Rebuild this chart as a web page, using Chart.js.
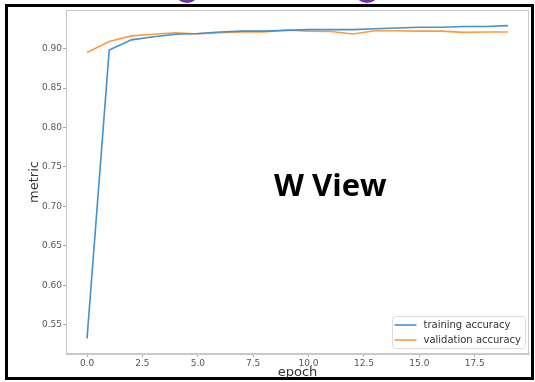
<!DOCTYPE html>
<html>
<head>
<meta charset="utf-8">
<script src="https://cdn.jsdelivr.net/npm/chart.js@4/dist/chart.umd.min.js"></script>
<style>
  html, body { margin: 0; padding: 0; background: #fff; }
  #wrap { position: relative; width: 535px; height: 382px; overflow: hidden; }
  #chart { position: absolute; left: 0; top: 0; }
  .frame { position: absolute; left: 5px; top: 4px; width: 529px; height: 376px;
           box-sizing: border-box; border: 3px solid #000; pointer-events: none; }
  .dot { position: absolute; width: 26px; height: 26px; border-radius: 50%; background: #7030a0; top: -23px; }
</style>
</head>
<body>
<div id="wrap">
  <canvas id="chart" width="535" height="382"></canvas>
  <div class="dot" style="left:174px"></div>
  <div class="dot" style="left:354px"></div>
  <div class="frame"></div>
</div>
<script>
// Training history: accuracy per epoch
const epochs = [0, 1, 2, 3, 4, 5, 6, 7, 8, 9, 10, 11, 12, 13, 14, 15, 16, 17, 18, 19];
const trainAcc = [0.533, 0.898, 0.911, 0.915, 0.918, 0.919, 0.921, 0.922, 0.922, 0.923,
                  0.924, 0.924, 0.924, 0.925, 0.926, 0.927, 0.927, 0.928, 0.928, 0.929];
const valAcc = [0.895, 0.909, 0.916, 0.918, 0.920, 0.9185, 0.920, 0.921, 0.921, 0.9235,
                0.922, 0.9215, 0.9185, 0.9225, 0.9225, 0.922, 0.922, 0.9205, 0.921, 0.921];
const seriesLabels = ['training accuracy', 'validation accuracy'];
const xTickValues = [0, 2.5, 5, 7.5, 10, 12.5, 15, 17.5];
const yTickValues = [0.55, 0.60, 0.65, 0.70, 0.75, 0.80, 0.85, 0.90];
const xTitle = 'epoch';
const yTitle = 'metric';
const overlayText = 'W View';

// 5% margins around the data, as in the usual plotting default
const allY = trainAcc.concat(valAcc);
const yLo = Math.min(...allY), yHi = Math.max(...allY);
const yPad = (yHi - yLo) * 0.05;
const xLo = Math.min(...epochs), xHi = Math.max(...epochs);
const xPad = (xHi - xLo) * 0.05;

const spineColor = '#c8c8c8';
const tickFont = { family: 'DejaVu Sans', size: 9 };

const framePlugin = {
  id: 'framePlugin',
  beforeDatasetsDraw(chart) {
    const { ctx, chartArea: a } = chart;
    ctx.save();
    ctx.strokeStyle = spineColor;
    ctx.lineWidth = 1;
    ctx.strokeRect(Math.round(a.left) + 0.5, Math.round(a.top) + 0.5,
                   Math.round(a.right - a.left) - 1, Math.round(a.bottom - a.top) - 1);
    ctx.restore();
  },
  afterDatasetsDraw(chart) {
    const { ctx, chartArea: a } = chart;
    const ds = chart.data.datasets;
    ctx.save();
    // legend box in the lower right corner
    ctx.font = '10px "DejaVu Sans"';
    const textW = Math.max(...ds.map(d => ctx.measureText(d.label).width));
    const rowH = 15, lineLen = 22, gap = 7, padL = 2, padR = 4, padV = 1;
    const w = padL + lineLen + gap + textW + padR;
    const h = ds.length * rowH + padV * 2;
    const x0 = a.right - 4 - w;
    const y0 = a.bottom - 6 - h;
    ctx.beginPath();
    ctx.roundRect(Math.round(x0) + 0.5, Math.round(y0) + 0.5, Math.round(w), Math.round(h), 3);
    ctx.fillStyle = 'rgba(255,255,255,0.85)';
    ctx.fill();
    ctx.strokeStyle = '#dcdcdc';
    ctx.lineWidth = 1;
    ctx.stroke();
    ds.forEach((d, i) => {
      const cy = y0 + padV + rowH * i + rowH / 2 + 0.5;
      ctx.beginPath();
      ctx.moveTo(x0 + padL, cy);
      ctx.lineTo(x0 + padL + lineLen, cy);
      ctx.strokeStyle = d.borderColor;
      ctx.lineWidth = 1.6;
      ctx.stroke();
      ctx.fillStyle = '#333';
      ctx.textBaseline = 'middle';
      ctx.fillText(d.label, x0 + padL + lineLen + gap, cy);
    });
    // caption text
    ctx.font = 'bold 31px "Open Sans"';
    ctx.fillStyle = '#000';
    ctx.textBaseline = 'alphabetic';
    ctx.fillText(overlayText, 274, 196);
    ctx.restore();
  }
};

new Chart(document.getElementById('chart'), {
  type: 'line',
  data: {
    datasets: [
      { label: seriesLabels[0], data: epochs.map((e, i) => ({ x: e, y: trainAcc[i] })),
        borderColor: '#4491cf', borderWidth: 1.6, pointRadius: 0, tension: 0, fill: false },
      { label: seriesLabels[1], data: epochs.map((e, i) => ({ x: e, y: valAcc[i] })),
        borderColor: '#ff9a3a', borderWidth: 1.6, pointRadius: 0, tension: 0, fill: false }
    ]
  },
  options: {
    responsive: false,
    animation: false,
    events: [],
    layout: { padding: { left: 0, top: 10, right: 6, bottom: 0 } },
    plugins: { legend: { display: false }, tooltip: { enabled: false } },
    scales: {
      x: {
        type: 'linear',
        min: xLo - xPad, max: xHi + xPad,
        afterBuildTicks: s => { s.ticks = xTickValues.map(v => ({ value: v })); },
        afterFit: s => { s.height = 28; },
        ticks: { autoSkip: false, maxRotation: 0, font: tickFont, color: '#555', padding: 1,
                 callback: v => Number(v).toFixed(1) },
        grid: { drawOnChartArea: false, drawTicks: true, tickLength: 3, tickColor: '#aaa' },
        border: { color: spineColor },
        title: { display: true, text: xTitle, color: '#333',
                 font: { family: 'DejaVu Sans', size: 13 }, padding: { top: 0, bottom: 2 } }
      },
      y: {
        type: 'linear',
        min: yLo - yPad, max: yHi + yPad,
        afterBuildTicks: s => { s.ticks = yTickValues.map(v => ({ value: v })); },
        afterFit: s => { s.width = 66; },
        ticks: { autoSkip: false, font: tickFont, color: '#555', padding: 1,
                 callback: v => Number(v).toFixed(2) },
        grid: { drawOnChartArea: false, drawTicks: true, tickLength: 3, tickColor: '#aaa' },
        border: { color: spineColor },
        title: { display: true, text: yTitle, color: '#333',
                 font: { family: 'DejaVu Sans', size: 13 }, padding: { top: 27, bottom: 0 } }
      }
    }
  },
  plugins: [framePlugin]
});
</script>
</body>
</html>
